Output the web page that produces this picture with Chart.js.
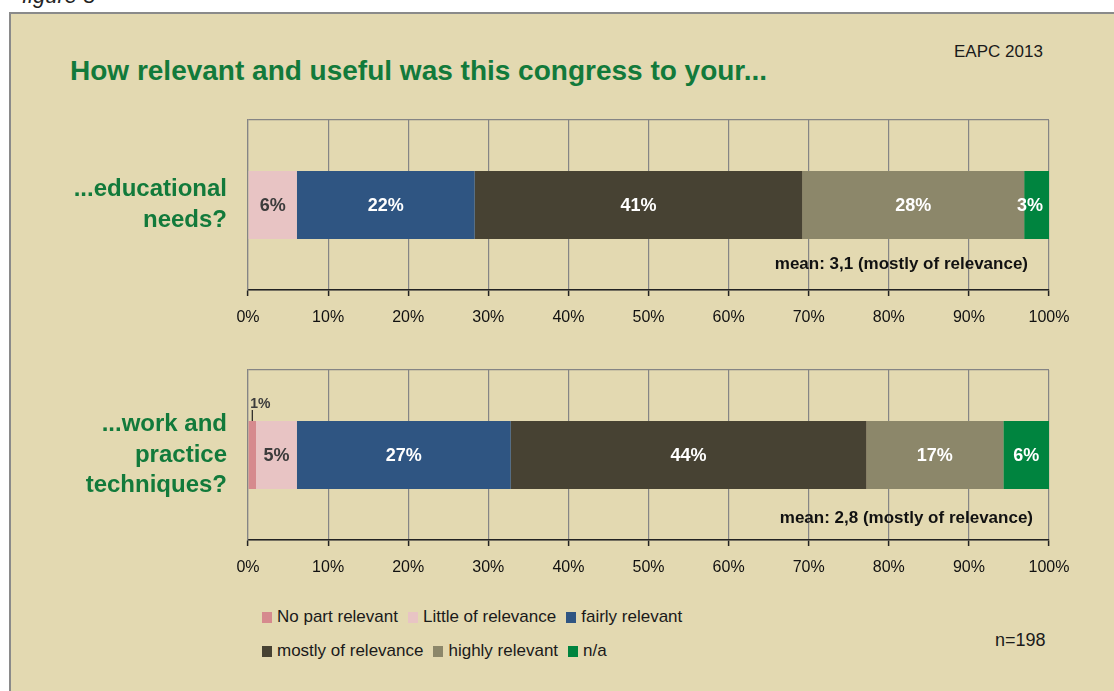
<!DOCTYPE html>
<html><head><meta charset="utf-8">
<script src="https://cdn.jsdelivr.net/npm/chart.js@4"></script>
<style>
html,body{margin:0;padding:0;background:#fff;width:1114px;height:691px;overflow:hidden;font-family:'Liberation Sans',Arial,sans-serif;}
#fig{position:absolute;left:22px;top:-17px;font-style:italic;font-size:22px;color:#222;}
#box{position:absolute;left:9px;top:12px;width:1120px;height:700px;background:#E3D9B1;border:2px solid #8a8a8a;box-sizing:border-box;}
.txt{position:absolute;white-space:nowrap;line-height:1;}
#title{left:70px;top:57px;font-size:28px;font-weight:bold;color:#127A3B;}
#eapc{left:954px;top:43px;font-size:17px;color:#1a1a1a;}
#n{left:995px;top:631px;font-size:18px;color:#1a1a1a;}
.chartbox{position:absolute;left:0;width:1114px;height:240px;}
#legend{position:absolute;left:262px;top:606px;font-size:17px;color:#1a1a1a;}
.lrow{display:flex;height:34px;align-items:flex-start;}
.litem{display:flex;align-items:center;margin-right:10px;height:22px;}
.lsw{width:10px;height:11px;margin-right:5px;}
</style>
</head><body>
<div id="fig">figure 5</div>
<div id="box"></div>
<div class="txt" id="title">How relevant and useful was this congress to your...</div>
<div class="txt" id="eapc">EAPC 2013</div>
<div class="chartbox" style="top:100px"><canvas id="c1"></canvas></div>
<div class="chartbox" style="top:350px"><canvas id="c2"></canvas></div>
<div id="legend"></div>
<div class="txt" id="n">n=198</div>
<script>
const seriesNames = ['No part relevant','Little of relevance','fairly relevant','mostly of relevance','highly relevant','n/a'];
const seriesColors = ['#D68A8E','#E8C4C4','#2F5582','#474233','#8C876A','#00843F'];
const labelColors = ['#3c3c3c','#3c3c3c','#ffffff','#ffffff','#ffffff','#ffffff'];
const categoryEducational = [['...educational','needs?']];
const categoryWork = [['...work and','practice','techniques?']];
const educationalValues = [0, 6.1, 22.2, 40.9, 27.7, 3.1];
const workValues = [1.0, 5.1, 26.7, 44.4, 17.1, 5.7];
const meanEducational = 'mean: 3,1 (mostly of relevance)';
const meanWork = 'mean: 2,8 (mostly of relevance)';
const legendRows = [[0,1,2],[3,4,5]];

const FONT = "'Liberation Sans', Arial, sans-serif";
Chart.defaults.font.family = FONT;
const GREEN = '#127A3B';

const labelPlugin = {
  id: 'segLabels',
  afterDatasetsDraw(chart, args, opts) {
    const ctx = chart.ctx;
    const a = chart.chartArea;
    ctx.save();
    chart.data.datasets.forEach((ds, i) => {
      const meta = chart.getDatasetMeta(i);
      meta.data.forEach((el, j) => {
        const v = ds.data[j];
        if (!v) return;
        const txt = Math.round(v) + '%';
        const c = el.getCenterPoint();
        const top = el.y - el.height / 2;
        if (v < 2) {
          ctx.strokeStyle = '#222';
          ctx.lineWidth = 1.2;
          ctx.beginPath();
          ctx.moveTo(c.x, top);
          ctx.lineTo(c.x, top - 11);
          ctx.stroke();
          ctx.fillStyle = '#3c3c3c';
          ctx.font = 'bold 14px ' + FONT;
          ctx.textAlign = 'left';
          ctx.textBaseline = 'middle';
          ctx.fillText(txt, c.x - 2, top - 17);
        } else {
          ctx.fillStyle = labelColors[i];
          ctx.font = 'bold 18px ' + FONT;
          ctx.textAlign = 'center';
          ctx.textBaseline = 'middle';
          const w = ctx.measureText(txt).width;
          const x = Math.min(c.x, a.right - 6 - w / 2);
          ctx.fillText(txt, x, c.y + 1);
        }
      });
    });
    ctx.fillStyle = '#111';
    ctx.font = 'bold 17px ' + FONT;
    ctx.textAlign = 'right';
    ctx.textBaseline = 'middle';
    ctx.fillText(opts.text, a.right - opts.dx, a.bottom - opts.dy);
    ctx.restore();
  }
};

function makeChart(id, cats, values, meanText, dx, dy) {
  return new Chart(document.getElementById(id), {
    type: 'bar',
    data: {
      labels: cats,
      datasets: seriesNames.map((n, i) => ({
        label: n, data: [values[i]], backgroundColor: seriesColors[i],
        borderWidth: 0, barPercentage: 1, categoryPercentage: 0.4
      }))
    },
    options: {
      indexAxis: 'y', responsive: true, maintainAspectRatio: false, animation: false,
      layout: { padding: { top: 20, right: 65, bottom: 0, left: 0 } },
      plugins: { legend: { display: false }, tooltip: { enabled: false },
        segLabels: { text: meanText, dx: dx, dy: dy } },
      scales: {
        x: {
          stacked: true, min: 0, max: 100,
          ticks: { stepSize: 10, autoSkip: false, maxRotation: 0, callback: v => v + '%',
            color: '#111', font: { size: 16 }, padding: 12 },
          grid: { color: '#858585', lineWidth: 1.2, tickColor: '#222', tickLength: 6, tickWidth: 1.5 },
          border: { color: '#222', width: 1.5 },
          afterFit: s => { s.height = 50; s.paddingLeft = 0; s.paddingRight = 0; }
        },
        y: {
          stacked: true,
          ticks: { color: GREEN, font: { size: 24, weight: 'bold', lineHeight: 1.27 }, padding: 21 },
          grid: { color: '#858585', lineWidth: 1.2, drawTicks: false, offset: true },
          border: { color: '#858585', width: 1.2 },
          afterFit: s => { s.width = 248; s.paddingTop = 0; s.paddingBottom = 0; }
        }
      }
    },
    plugins: [labelPlugin]
  });
}

makeChart('c1', categoryEducational, educationalValues, meanEducational, 21, 26);
makeChart('c2', categoryWork, workValues, meanWork, 16, 22);

const leg = document.getElementById('legend');
legendRows.forEach(r => {
  const row = document.createElement('div');
  row.className = 'lrow';
  r.forEach(i => {
    const it = document.createElement('div');
    it.className = 'litem';
    const sw = document.createElement('span');
    sw.className = 'lsw';
    sw.style.background = seriesColors[i];
    const t = document.createElement('span');
    t.textContent = seriesNames[i];
    it.appendChild(sw); it.appendChild(t);
    row.appendChild(it);
  });
  leg.appendChild(row);
});
</script>
</body></html>
